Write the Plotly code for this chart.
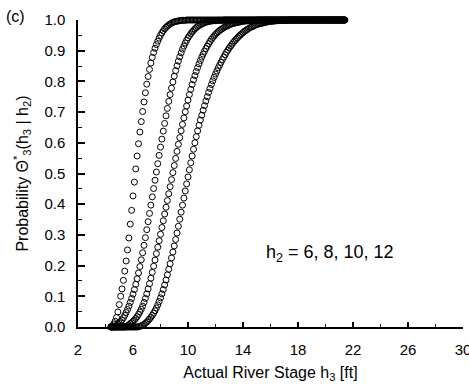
import plotly.graph_objects as go

# shared sample grid of actual river stage h3 [ft]
x_start = 4.4
x_step = 0.1
n_points = 171
h3 = [round(x_start + x_step * i, 1) for i in range(n_points)]

# Probability curves (values start at h3 = 4.4)
p_h2_6 = [0.001, 0.004, 0.010, 0.019, 0.031, 0.049, 0.073, 0.100, 0.124, 0.152,
          0.182, 0.215, 0.251, 0.290, 0.335, 0.380, 0.427, 0.472, 0.515, 0.557,
          0.597, 0.635, 0.669, 0.702, 0.733, 0.763, 0.791, 0.816, 0.839, 0.860,
          0.878, 0.894, 0.908, 0.920, 0.931, 0.941, 0.950, 0.958, 0.965, 0.971,
          0.976, 0.980, 0.984, 0.987, 0.990, 0.992, 0.994, 0.995, 0.996, 0.997,
          0.998, 0.998, 0.999, 0.999, 0.999]

p_h2_8 = [0.0, 0.0,
          0.001, 0.003, 0.005, 0.008, 0.012, 0.017, 0.023, 0.030, 0.038, 0.047,
          0.057, 0.068, 0.080, 0.093, 0.107, 0.122, 0.139, 0.157, 0.176, 0.197,
          0.219, 0.242, 0.266, 0.291, 0.317, 0.343, 0.370, 0.397, 0.424, 0.451,
          0.478, 0.505, 0.532, 0.559, 0.586, 0.612, 0.638, 0.663, 0.688, 0.712,
          0.735, 0.757, 0.778, 0.798, 0.817, 0.835, 0.851, 0.866, 0.880, 0.893,
          0.905, 0.915, 0.925, 0.934, 0.942, 0.949, 0.955, 0.961, 0.966, 0.971,
          0.975, 0.979, 0.982, 0.985, 0.987, 0.989, 0.991, 0.993, 0.994, 0.995,
          0.996, 0.997, 0.997, 0.998, 0.998, 0.999, 0.999, 0.999, 0.999, 0.999]

p_h2_10 = [0.0] * 11 + [
          0.002, 0.004, 0.007, 0.011, 0.014, 0.018, 0.023, 0.028, 0.034, 0.041,
          0.049, 0.058, 0.068, 0.080, 0.093, 0.108, 0.124, 0.141, 0.159, 0.178,
          0.198, 0.218, 0.239, 0.260, 0.281, 0.302, 0.324, 0.346, 0.368, 0.390,
          0.412, 0.434, 0.457, 0.480, 0.503, 0.526, 0.549, 0.572, 0.595, 0.617,
          0.639, 0.660, 0.681, 0.701, 0.720, 0.739, 0.757, 0.774, 0.790, 0.805,
          0.819, 0.832, 0.845, 0.857, 0.868, 0.879, 0.889, 0.898, 0.907, 0.915,
          0.923, 0.930, 0.937, 0.943, 0.948, 0.953, 0.958, 0.962, 0.966, 0.969,
          0.972, 0.975, 0.978, 0.980, 0.982, 0.984, 0.986, 0.988, 0.989, 0.990,
          0.991, 0.992, 0.993, 0.994, 0.995, 0.996, 0.996, 0.997, 0.997, 0.998,
          0.998, 0.998, 0.999, 0.999, 0.999, 0.999]

p_h2_12 = [0.0] * 20 + [
          0.001, 0.002, 0.004, 0.006, 0.009, 0.012, 0.016, 0.021, 0.026, 0.032,
          0.038, 0.045, 0.053, 0.062, 0.072, 0.083, 0.095, 0.108, 0.122, 0.137,
          0.153, 0.170, 0.188, 0.206, 0.225, 0.244, 0.264, 0.285, 0.306, 0.328,
          0.351, 0.374, 0.397, 0.420, 0.443, 0.466, 0.489, 0.512, 0.535, 0.557,
          0.579, 0.600, 0.620, 0.639, 0.657, 0.674, 0.690, 0.706, 0.721, 0.736,
          0.750, 0.764, 0.777, 0.790, 0.802, 0.813, 0.824, 0.834, 0.844, 0.853,
          0.862, 0.871, 0.879, 0.887, 0.895, 0.902, 0.909, 0.915, 0.921, 0.927,
          0.932, 0.937, 0.942, 0.947, 0.951, 0.955, 0.959, 0.963, 0.966, 0.969,
          0.972, 0.975, 0.977, 0.979, 0.981, 0.983, 0.985, 0.987, 0.988, 0.989,
          0.990, 0.991, 0.992, 0.993, 0.994, 0.995, 0.995, 0.996, 0.996, 0.997,
          0.997, 0.998, 0.998, 0.998, 0.999, 0.999, 0.999, 0.999, 0.999]

curves = [p_h2_6, p_h2_8, p_h2_10, p_h2_12]
curve_names = ["h2=6", "h2=8", "h2=10", "h2=12"]

y_ticks = [0.0, 0.1, 0.2, 0.3, 0.4, 0.5, 0.6, 0.7, 0.8, 0.9, 1.0]
x_ticks = [2, 6, 10, 14, 18, 22, 26, 30]

FONT = "Liberation Sans, Arial, sans-serif"

fig = go.Figure()
for vals, name in zip(curves, curve_names):
    full = list(vals) + [1.0] * (len(h3) - len(vals))
    fig.add_trace(go.Scatter(
        x=h3, y=full, mode="markers", name=name,
        marker=dict(symbol="circle-open", size=6, color="black",
                    line=dict(width=1, color="black")),
        cliponaxis=False, showlegend=False,
    ))

fig.update_layout(
    width=469, height=384,
    margin=dict(l=78, r=6, t=20, b=57),
    paper_bgcolor="white", plot_bgcolor="white",
    font=dict(family=FONT, size=15, color="black"),
)

fig.update_xaxes(
    range=[2, 30], tickvals=x_ticks, ticktext=[str(v) for v in x_ticks],
    ticklabeloverflow="allow", automargin=False,
    showgrid=False, zeroline=False, showline=True, linecolor="black", linewidth=1.5,
    ticks="inside", ticklen=5, tickwidth=1.5, tickcolor="black",
    minor=dict(tickvals=[4, 8, 12, 16, 20, 24, 28], ticks="inside", ticklen=3,
               tickwidth=1, tickcolor="black", showgrid=False),
    tickfont=dict(size=15), ticklabelstandoff=8,
    title=dict(text="Actual River Stage h<sub>3</sub> [ft]", font=dict(size=16), standoff=10),
)
fig.update_yaxes(
    range=[0, 1], tickvals=y_ticks, ticktext=[f"{v:.1f}" for v in y_ticks],
    automargin=False,
    showgrid=False, zeroline=False, showline=True, linecolor="black", linewidth=1.5,
    ticks="inside", ticklen=7, tickwidth=1.5, tickcolor="black",
    minor=dict(tickvals=[0.05, 0.15, 0.25, 0.35, 0.45, 0.55, 0.65, 0.75, 0.85, 0.95],
               ticks="inside", ticklen=4, tickwidth=1, tickcolor="black", showgrid=False),
    tickfont=dict(size=15), ticklabelstandoff=8,
    title=dict(text="Probability Θ<sup>*</sup><sub>3</sub>(h<sub>3</sub> | h<sub>2</sub>)",
               font=dict(size=16), standoff=12),
)

fig.add_annotation(x=0.0, y=1.0, xref="paper", yref="paper", xshift=-74, yshift=4,
                   text="(c)", showarrow=False, xanchor="left", yanchor="middle",
                   font=dict(size=16))
fig.add_annotation(x=20.3, y=0.24, xref="x", yref="y",
                   text="h<sub>2</sub> = 6, 8, 10, 12", showarrow=False,
                   xanchor="center", yanchor="middle", font=dict(size=18))

fig.write_html("out.html")
